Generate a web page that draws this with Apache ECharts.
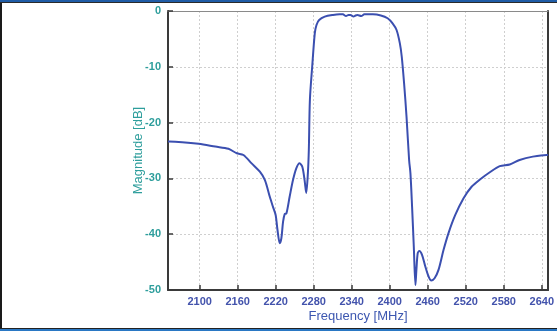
<!DOCTYPE html>
<html>
<head>
<meta charset="utf-8">
<script src="https://cdn.jsdelivr.net/npm/echarts@6/dist/echarts.min.js"></script>
<style>
html,body{margin:0;padding:0;background:#fff;}
#wrap{position:relative;width:557px;height:331px;overflow:hidden;}
#chart{position:absolute;left:0;top:0;width:557px;height:331px;}
.fl{position:absolute;left:0;top:0;width:2px;height:331px;background:#1a1a1a;}
.ft{position:absolute;left:0;top:0;width:557px;height:2px;background:#1f5ca6;}
.ft2{position:absolute;left:0;top:2px;width:557px;height:1px;background:#2a2a2a;}
.fb{position:absolute;left:0;top:328px;width:557px;height:1px;background:#222;}
.fb2{position:absolute;left:0;top:329px;width:557px;height:2px;background:#2a78c4;}
</style>
</head>
<body>
<div id="wrap">
<div id="chart"></div>
<div class="fl"></div><div class="ft"></div><div class="ft2"></div><div class="fb"></div><div class="fb2"></div>
</div>
<script>
var xTicks = [2100, 2160, 2220, 2280, 2340, 2400, 2460, 2520, 2580, 2640];
var yTicks = [0, -10, -20, -30, -40, -50];
var freq = [2050, 2051.3, 2072.4, 2098.4, 2124.6, 2145.4, 2158.6, 2169, 2182, 2195, 2203, 2210.7, 2216, 2220, 2222.8, 2226.4, 2229, 2231.6, 2234.2, 2236.9, 2242, 2247.3, 2252.5, 2257.7, 2262, 2265.6, 2268.2, 2270.8, 2272.3, 2274, 2277.6, 2281.7, 2284.4, 2288.6, 2297.4, 2310.5, 2321, 2326, 2331, 2335, 2338, 2342.9, 2346, 2349, 2355, 2360, 2373.3, 2386, 2396.7, 2404.5, 2410.8, 2416, 2419, 2422.7, 2426.5, 2430.6, 2432.7, 2435.3, 2438, 2440.6, 2442.1, 2444.2, 2446.8, 2451, 2456.2, 2461.4, 2465.6, 2470.8, 2477, 2485, 2492.8, 2503.3, 2516.3, 2529.2, 2542.4, 2558, 2573.7, 2589.4, 2605, 2625.9, 2647.8, 2650];
var magnitude = [-23.4, -23.4, -23.5, -23.8, -24.3, -24.7, -25.5, -25.8, -27.3, -28.8, -30.3, -33.3, -35.2, -36.6, -39.2, -41.6, -40.7, -37.8, -36.4, -36.3, -33.3, -30.3, -28.2, -27.3, -27.9, -30.3, -32.6, -29.1, -24.9, -15.9, -10, -4, -2.5, -1.6, -1.0, -0.7, -0.6, -0.6, -0.9, -0.7, -0.7, -1.0, -0.8, -0.7, -0.9, -0.6, -0.6, -0.8, -1.3, -2.2, -3.4, -5.8, -8.2, -13, -18.9, -26.7, -29.1, -35.1, -42.2, -49.1, -46.4, -43.4, -43.0, -43.7, -45.8, -47.6, -48.3, -47.9, -46.4, -42.8, -39.8, -36.6, -33.6, -31.5, -30.2, -28.9, -27.8, -27.5, -26.7, -26.1, -25.8, -25.8];

var data = freq.map(function (f, i) { return [f, magnitude[i]]; });
var labelFont = 'Liberation Sans, Arial, sans-serif';
var chart = echarts.init(document.getElementById('chart'), null, {renderer: 'canvas'});
chart.setOption({
  animation: false,
  backgroundColor: '#fff',
  grid: {left: 168, top: 11, right: 7, bottom: 41, show: false},
  xAxis: [{
    type: 'value', min: 2050, max: 2650, position: 'bottom',
    name: 'Frequency [MHz]', nameLocation: 'middle', nameGap: 20, nameMoveOverlap: false,
    nameTextStyle: {color: '#3d57b0', fontSize: 13, fontFamily: labelFont},
    axisLine: {show: true, onZero: false, lineStyle: {color: '#3a3a3a', width: 2}},
    axisTick: {show: true, inside: true, length: 5, customValues: xTicks, lineStyle: {color: '#3a3a3a', width: 1.5}},
    axisLabel: {customValues: xTicks, formatter: function (v) { return String(v); }, color: '#4353ac', fontWeight: 'bold', fontSize: 11, fontFamily: labelFont, margin: 6},
    splitLine: {show: true, lineStyle: {color: '#cfcfcf', type: [2, 2], width: 1}}
  }, {
    type: 'value', min: 2050, max: 2650, position: 'top',
    axisLine: {show: true, onZero: false, lineStyle: {color: '#8a8a8a', width: 1}},
    axisTick: {show: false}, axisLabel: {show: false}, splitLine: {show: false}
  }],
  yAxis: [{
    type: 'value', min: -50, max: 0, interval: 10, position: 'left',
    name: 'Magnitude [dB]', nameLocation: 'middle', nameGap: 23, nameMoveOverlap: false,
    nameTextStyle: {color: '#2e9e9c', fontSize: 13, fontFamily: labelFont},
    axisLine: {show: true, onZero: false, lineStyle: {color: '#3a3a3a', width: 2}},
    axisTick: {show: true, inside: true, length: 5, lineStyle: {color: '#3a3a3a', width: 1.5}},
    axisLabel: {color: '#2e9e9c', fontWeight: 'bold', fontSize: 11, fontFamily: labelFont, margin: 7},
    splitLine: {show: true, lineStyle: {color: '#cfcfcf', type: [2, 2], width: 1}}
  }, {
    type: 'value', min: -50, max: 0, position: 'right',
    axisLine: {show: true, onZero: false, lineStyle: {color: '#3a3a3a', width: 2}},
    axisTick: {show: false}, axisLabel: {show: false}, splitLine: {show: false}
  }],
  series: [{
    type: 'line', data: data, xAxisIndex: 0, yAxisIndex: 0,
    showSymbol: false, smooth: 0.3, clip: true,
    lineStyle: {color: '#3b4fb0', width: 2}
  }]
});
</script>
</body>
</html>
